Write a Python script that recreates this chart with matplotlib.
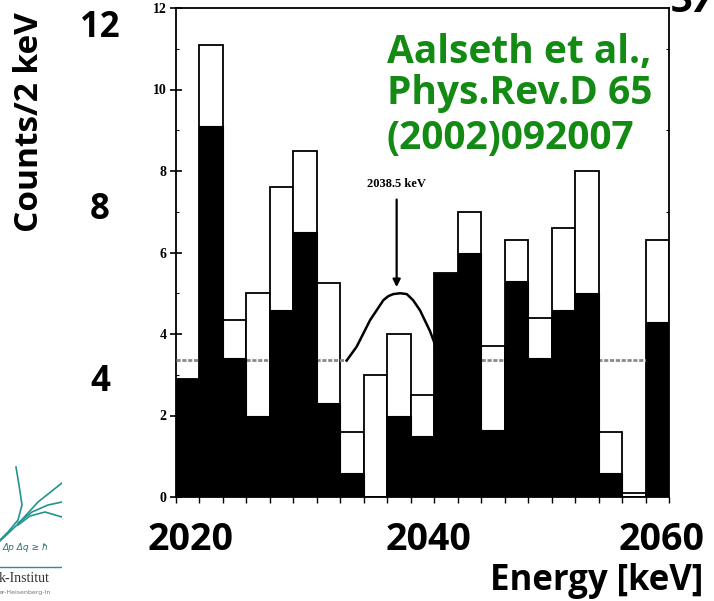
import matplotlib
matplotlib.use("Agg")
import matplotlib.pyplot as plt

# 2 keV bins, left edges (keV)
bin_edges = [2020, 2022, 2024, 2026, 2028, 2030, 2032, 2034, 2036, 2038, 2040,
             2042, 2044, 2046, 2048, 2050, 2052, 2054, 2056, 2058, 2060, 2062]
# filled (black) histogram and open (total) histogram, counts / 2 keV
black_counts = [2.9, 9.1, 3.4, 2.0, 4.6, 6.5, 2.3, 0.6, 0.0, 2.0, 1.5,
                5.5, 6.0, 1.65, 5.3, 3.4, 4.6, 5.0, 0.6, 0.0, 4.3]
total_counts = [2.9, 11.1, 4.35, 5.0, 7.6, 8.5, 5.25, 1.6, 3.0, 4.0, 2.5,
                5.5, 7.0, 3.7, 6.3, 4.4, 6.6, 8.0, 1.6, 0.1, 6.3]

# flat background and peak fit
bg_level = 3.35
peak_energy = [2034.55, 2035.4, 2036.54, 2037.67, 2038.1, 2038.52, 2039.1,
               2039.66, 2040.2, 2040.79, 2041.64, 2042.13, 2042.9, 2043.5]
peak_counts = [3.35, 3.69, 4.34, 4.83, 4.93, 4.98, 5.0,
               4.98, 4.83, 4.58, 4.07, 3.69, 3.42, 3.35]
arrow_energy = 2038.8

y_ticks = [0, 2, 4, 6, 8, 10, 12]
big_x_labels = ["2020", "2040", "2060"]
big_y_labels = ["12", "8", "4"]
ref_lines = ["Aalseth et al.,", "Phys.Rev.D 65", "(2002)092007"]

W, H = 714, 601
BIG = "Open Sans"
GREEN = "#138a13"


def fx(x):
    return x / W


def fy(y):
    return 1 - y / H


fig = plt.figure(figsize=(W / 100, H / 100), dpi=100)
ax = fig.add_axes([fx(175.7), fy(497), (669.3 - 175.7) / W, (497 - 8) / H])

lefts = bin_edges[:-1]
ax.bar(lefts, total_counts, width=2, align="edge", color="white",
       edgecolor="black", linewidth=1.3, zorder=2)
# background drawn as a grey dotted band, visible only over the open bars
for x0, x1 in [(bin_edges[0], peak_energy[0]), (peak_energy[-1], bin_edges[-1])]:
    ax.plot([x0, x1], [bg_level, bg_level], color="#8a8a8a", lw=2.0,
            ls=(0, (1.5, 0.6)), zorder=3)
ax.plot(peak_energy, peak_counts, color="black", lw=1.8, zorder=3,
        solid_joinstyle="round")
ax.bar(lefts, black_counts, width=2, align="edge", color="black",
       edgecolor="black", linewidth=0.8, zorder=4)

ax.set_xlim(bin_edges[0], bin_edges[-1])
ax.set_ylim(0, 12)
ax.set_xticks(bin_edges)
ax.set_yticks(y_ticks)
ax.set_yticks([1, 3, 5, 7, 9, 11], minor=True)
ax.tick_params(axis="x", direction="out", length=4, width=1, labelbottom=False)
ax.tick_params(axis="y", which="major", direction="inout", length=9, width=1.2,
               pad=2)
ax.tick_params(axis="y", which="minor", direction="in", length=2, width=0.8,
               right=True)
for lab in ax.get_yticklabels():
    lab.set_fontfamily("Liberation Serif")
    lab.set_fontweight("bold")
    lab.set_fontsize(10)
for sp in ax.spines.values():
    sp.set_linewidth(1.3)

ax.annotate("", xy=(arrow_energy, 5.15), xytext=(arrow_energy, 7.3),
            arrowprops=dict(arrowstyle="-|>", lw=1.6, color="black",
                            mutation_scale=11, shrinkA=0, shrinkB=0))
ax.text(arrow_energy, 7.68, "2038.5 keV", ha="center", va="center",
        fontsize=9, fontfamily="Liberation Serif", fontweight="bold")

# citation in green
for txt, yb in zip(ref_lines, [63, 104, 149]):
    fig.text(fx(387), fy(yb), txt, ha="left", va="baseline", color=GREEN,
             fontsize=28, fontfamily=BIG, fontweight="bold")

# slide-level axis labels
for txt, xc in zip(big_x_labels, [191, 429, 662]):
    fig.text(fx(xc), fy(540), txt, ha="center", va="center", fontsize=27,
             fontfamily=BIG, fontweight="bold")
for txt, yc in zip(big_y_labels, [28, 210, 382]):
    fig.text(fx(100), fy(yc), txt, ha="center", va="center", fontsize=25,
             fontfamily=BIG, fontweight="bold")
fig.text(fx(703), fy(590), "Energy [keV]", ha="right", va="baseline",
         fontsize=25, fontfamily=BIG, fontweight="bold")
fig.text(fx(30), fy(122), "Counts/2 keV", ha="center", va="center",
         rotation=90, fontsize=24, fontfamily=BIG, fontweight="bold")

# slide page number, cut by the top edge as on the slide
fig.text(fx(672), fy(12), "37", ha="left", va="baseline", fontsize=28,
         fontfamily=BIG, fontweight="bold", style="italic")

# partial institute logo at the bottom-left corner
TEAL = "#23938f"
lax = fig.add_axes([0, 0, 62 / W, 171 / H])
lax.set_xlim(0, 62)
lax.set_ylim(601, 430)
lax.axis("off")
logo_curves = [
    ([0, 18, 38, 62], [541, 524, 502, 483]),
    ([16, 19, 22, 18, 8, 0], [467, 485, 505, 520, 532, 540]),
    ([18, 30, 45, 62], [525, 516, 512, 517]),
    ([18, 32, 48, 62], [523, 512, 505, 502]),
]
for cx, cy in logo_curves:
    lax.plot(cx, cy, color=TEAL, lw=1.2)
lax.plot([0, 62], [567, 567], color=TEAL, lw=1)
lax.text(3, 548, "Δp Δq ≥ ħ", fontsize=6.5, color="#2b6f6c", style="italic",
         va="center", ha="left")
lax.text(-1, 579, "k-Institut", fontsize=10, color="#333333",
         fontfamily="Liberation Serif", va="center", ha="left")
lax.text(-1, 593, "er-Heisenberg-In", fontsize=4.5, color="#777777",
         va="center", ha="left")

fig.savefig("out.png", dpi=100)
